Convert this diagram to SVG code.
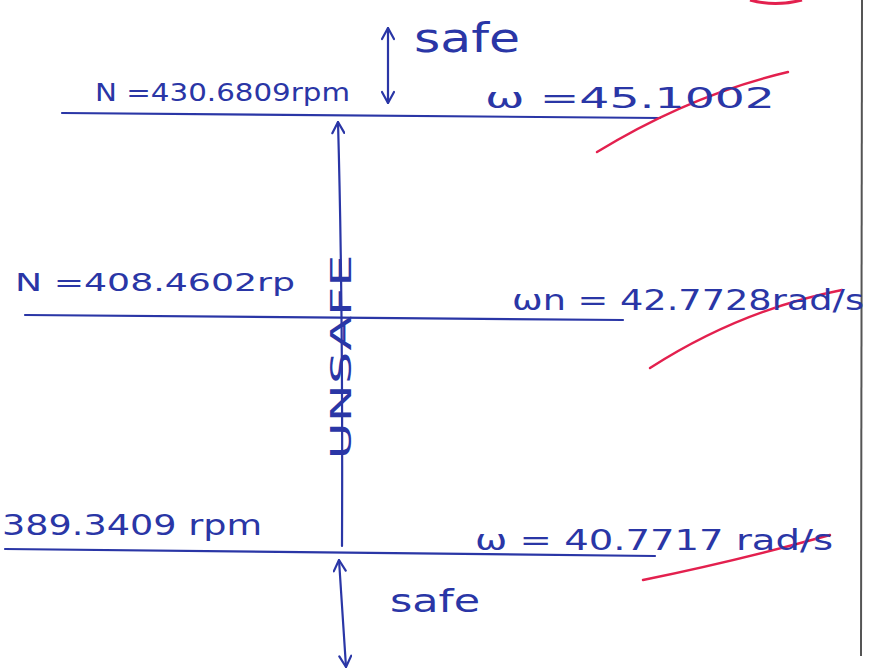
<svg xmlns="http://www.w3.org/2000/svg" width="869" height="671" viewBox="0 0 869 671">
<style>
.b{stroke:#2a36a6;stroke-width:2.2;fill:none;stroke-linecap:round}
.r{stroke:#e3204e;stroke-width:2.4;fill:none;stroke-linecap:round}
.t{fill:#2a36a6;font-family:"DejaVu Sans","Liberation Sans",sans-serif}
</style>
<defs>
<marker id="ah" viewBox="0 0 14 14" refX="13" refY="7" markerWidth="14" markerHeight="14" markerUnits="userSpaceOnUse" orient="auto-start-reverse">
<path d="M2,1 L13,7 L2,13" fill="none" stroke="#2a36a6" stroke-width="2.2" stroke-linecap="round" stroke-linejoin="round"/>
</marker>
</defs>
<rect width="869" height="671" fill="#ffffff"/>
<line x1="862" y1="0" x2="861" y2="656" stroke="#555" stroke-width="2"/>
<path d="M750,0 Q775,7 802,0" stroke="#e3204e" stroke-width="3" fill="none"/>
<g id="lines">
<path class="b" d="M62,113 L660,118"/>
<path class="b" d="M25,315 L623,320"/>
<path class="b" d="M5,549 L655,556"/>
</g>
<g id="connectors">
<path class="b" d="M338,122 Q343,300 342,546" marker-start="url(#ah)"/>
<path class="b" d="M339,560 L346,667" marker-start="url(#ah)" marker-end="url(#ah)"/>
<path class="b" d="M388,28 L388,103" marker-start="url(#ah)" marker-end="url(#ah)"/>
</g>
<g id="red">
<path class="r" d="M597,152 Q690,95 788,72"/>
<path class="r" d="M650,368 Q740,310 842,290"/>
<path class="r" d="M643,580 Q740,560 830,535"/>
</g>
<g id="top">
<text class="t" x="95" y="101" font-size="24" textLength="255" lengthAdjust="spacingAndGlyphs">N =430.6809rpm</text>
<text class="t" x="414" y="52" font-size="40" textLength="106" lengthAdjust="spacingAndGlyphs">safe</text>
<text class="t" x="485" y="108" font-size="28" textLength="290" lengthAdjust="spacingAndGlyphs">ω =45.1002</text>
</g>
<g id="middle">
<text class="t" x="15" y="291" font-size="24" textLength="280" lengthAdjust="spacingAndGlyphs">N =408.4602rp</text>
<text class="t" x="512" y="310" font-size="28" textLength="352" lengthAdjust="spacingAndGlyphs">ωn = 42.7728rad/s</text>
<text class="t" transform="translate(351,357) rotate(-90)" text-anchor="middle" font-size="28" textLength="205" lengthAdjust="spacingAndGlyphs">UNSAFE</text>
</g>
<g id="bottom">
<text class="t" x="2" y="535" font-size="28" textLength="260" lengthAdjust="spacingAndGlyphs">389.3409 rpm</text>
<text class="t" x="475" y="550" font-size="28" textLength="358" lengthAdjust="spacingAndGlyphs">ω = 40.7717 rad/s</text>
<text class="t" x="390" y="612" font-size="32" textLength="90" lengthAdjust="spacingAndGlyphs">safe</text>
</g>
</svg>
